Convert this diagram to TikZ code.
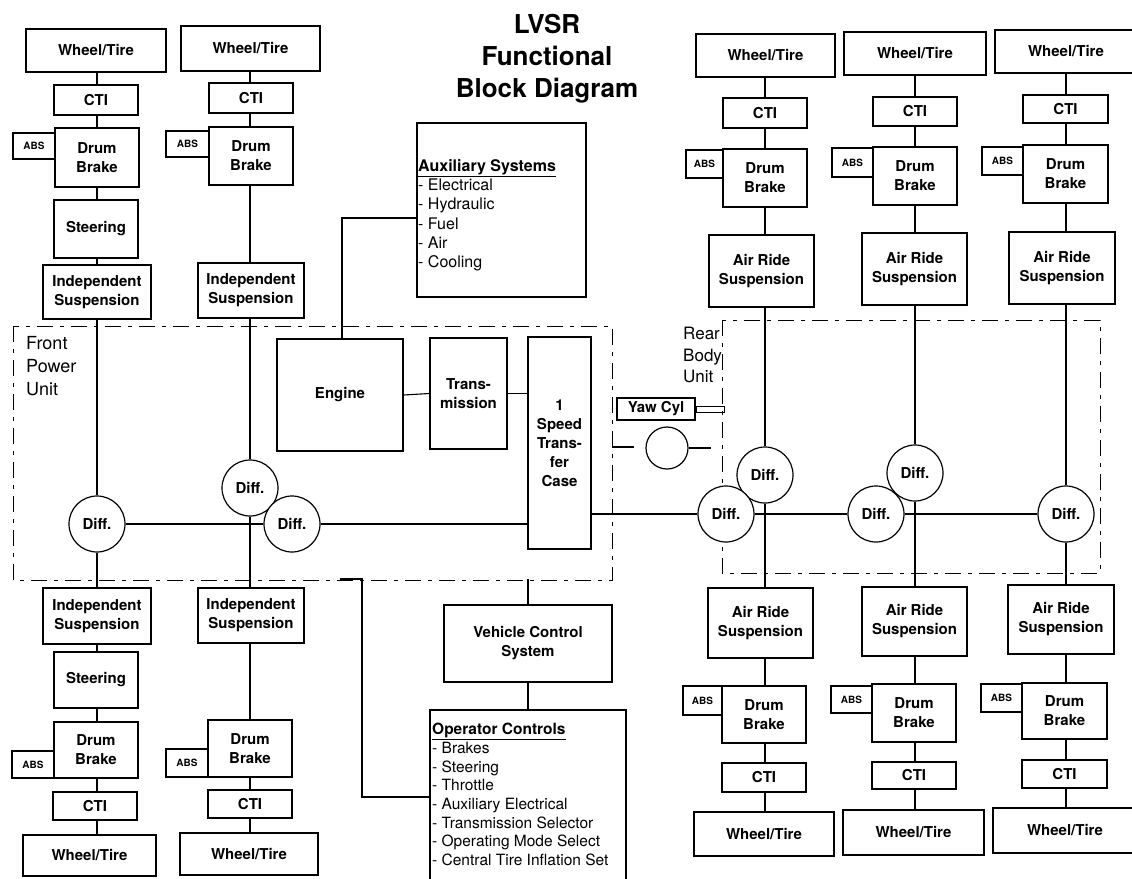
\documentclass[tikz,border=0pt]{standalone}
\usepackage{fontspec}
\setmainfont{TeX Gyre Heros}
\newcommand{\bfont}{\fontsize{15}{19}\selectfont\bfseries}
\newcommand{\absfont}{\fontsize{10}{11}\selectfont\bfseries}
\newcommand{\mybx}[7][box]{%
  \pgfmathsetmacro{\bxw}{#5-#3}%
  \pgfmathsetmacro{\bxh}{#6-#4}%
  \pgfmathsetmacro{\bxcx}{(#3+#5)/2}%
  \pgfmathsetmacro{\bxcy}{(#4+#6)/2}%
  \node[#1, minimum width=\bxw pt, minimum height=\bxh pt] (#2) at (\bxcx,\bxcy) {#7};}
\newcommand{\vlink}[3]{\draw[conn] (#2.south -| #1) -- (#3.north -| #1);}
\begin{document}
\begin{tikzpicture}[x=1pt,y=-1pt,
  box/.style={draw, line width=1.2pt, inner sep=0pt, align=center, font=\bfont},
  absbox/.style={draw, line width=1.2pt, inner sep=0pt, align=center, font=\absfont},
  plainbox/.style={draw, line width=1.2pt, inner sep=0pt},
  diffc/.style={circle, draw, fill=white, line width=1.2pt, inner sep=0pt, minimum size=56pt, font=\bfont},
  conn/.style={line width=1.1pt},
  unitbox/.style={line width=0.9pt, dash pattern=on 16pt off 7pt on 4pt off 7pt},
  lbl/.style={inner sep=0pt, align=left, anchor=north west}]
\path[use as bounding box, fill=white] (0,0) rectangle (1132,878);

% column x positions
\coordinate (c1) at (97,0);
\coordinate (c2) at (250,0);
\coordinate (cA) at (765,0);
\coordinate (cB) at (915,0);
\coordinate (cC) at (1066,0);

% unit boundaries
\draw[unitbox] (13,326) rectangle (612,580);
\draw[unitbox] (722,320) rectangle (1100,573);

% title and labels
\node[inner sep=0pt, align=center, anchor=north, font=\fontsize{26}{32}\selectfont\bfseries] (title) at (547,14) {LVSR\\Functional\\Block Diagram};
\node[lbl, font=\fontsize{18}{23}\selectfont] (fpu) at (26,336) {Front\\Power\\Unit};
\node[lbl, font=\fontsize{17}{21.5}\selectfont] (rbu) at (683,327) {Rear\\Body\\Unit};

% front column 1 (top)
\mybx{wtA1}{26}{29}{166}{72}{Wheel/Tire}
\mybx{ctiA1}{54}{85}{138}{115}{CTI}
\mybx{dbA1}{55}{128}{139}{187}{Drum\\Brake}
\mybx[absbox]{absA1}{13}{133}{55}{159}{ABS}
\mybx{stA1}{54}{200}{138}{258}{Steering}
\mybx{isA1}{43}{265}{151}{319}{Independent\\Suspension}
% front column 2 (top)
\mybx{wtA2}{181}{26}{320}{71}{Wheel/Tire}
\mybx{ctiA2}{209}{83}{293}{113}{CTI}
\mybx{dbA2}{209}{127}{293}{185}{Drum\\Brake}
\mybx[absbox]{absA2}{166}{131}{209}{157}{ABS}
\mybx{isA2}{198}{263}{304}{318}{Independent\\Suspension}
% front column 1 (bottom)
\mybx{isB1}{43}{588}{151}{644}{Independent\\Suspension}
\mybx{stB1}{54}{652}{138}{708}{Steering}
\mybx{dbB1}{54}{722}{138}{778}{Drum\\Brake}
\mybx[absbox]{absB1}{12}{751}{54}{778}{ABS}
\mybx{ctiB1}{53}{792}{137}{820}{CTI}
\mybx{wtB1}{23}{835}{156}{876}{Wheel/Tire}
% front column 2 (bottom)
\mybx{isB2}{198}{588}{304}{643}{Independent\\Suspension}
\mybx{dbB2}{208}{720}{292}{777}{Drum\\Brake}
\mybx[absbox]{absB2}{166}{749}{208}{777}{ABS}
\mybx{ctiB2}{208}{790}{292}{818}{CTI}
\mybx{wtB2}{180}{833}{318}{875}{Wheel/Tire}

% centre
\mybx[plainbox]{aux}{417}{123}{586}{297}{}
\node[lbl, font=\fontsize{16}{19.3}\selectfont] (auxt) at (418,159) {\underline{\textbf{Auxiliary Systems}}\\- Electrical\\- Hydraulic\\- Fuel\\- Air\\- Cooling};
\mybx{eng}{277}{339}{403}{451}{Engine}
\mybx{trn}{430}{338}{507}{449}{Trans-\\mission}
\mybx{tc}{528}{337}{591}{549}{1\\Speed\\Trans-\\fer\\Case}
\mybx{yaw}{617}{398}{695}{420}{Yaw Cyl}
\node[plainbox, line width=1pt, minimum width=28pt, minimum height=6pt, anchor=west] (rod) at (yaw.east) {};
\node[circle, draw, line width=1.2pt, minimum size=42pt, inner sep=0pt] (yc) at (667,448) {};
\mybx{vcs}{444}{605}{612}{682}{Vehicle Control\\System}
\mybx[plainbox]{op}{430}{710}{626}{884}{}
\node[lbl, font=\fontsize{15.5}{18.7}\selectfont] (opt) at (432,723) {\underline{\textbf{Operator Controls}}\\- Brakes\\- Steering\\- Throttle\\- Auxiliary Electrical\\- Transmission Selector\\- Operating Mode Select\\- Central Tire Inflation Set};

% rear column A (top)
\mybx{wtRA1}{696}{34}{835}{77}{Wheel/Tire}
\mybx{ctiRA1}{723}{98}{807}{128}{CTI}
\mybx{dbRA1}{723}{149}{807}{207}{Drum\\Brake}
\mybx[absbox]{absRA1}{686}{150}{723}{178}{ABS}
\mybx{arRA1}{709}{235}{814}{307}{Air Ride\\Suspension}
% rear column B (top)
\mybx{wtRB1}{844}{32}{986}{75}{Wheel/Tire}
\mybx{ctiRB1}{873}{97}{957}{126}{CTI}
\mybx{dbRB1}{873}{147}{957}{205}{Drum\\Brake}
\mybx[absbox]{absRB1}{832}{148}{873}{177}{ABS}
\mybx{arRB1}{862}{233}{967}{305}{Air Ride\\Suspension}
% rear column C (top)
\mybx{wtRC1}{995}{30}{1137}{73}{Wheel/Tire}
\mybx{ctiRC1}{1023}{95}{1108}{123}{CTI}
\mybx{dbRC1}{1023}{145}{1108}{203}{Drum\\Brake}
\mybx[absbox]{absRC1}{982}{147}{1023}{175}{ABS}
\mybx{arRC1}{1009}{232}{1115}{304}{Air Ride\\Suspension}
% rear column A (bottom)
\mybx{arRA2}{708}{588}{813}{658}{Air Ride\\Suspension}
\mybx{dbRA2}{722}{686}{806}{743}{Drum\\Brake}
\mybx[absbox]{absRA2}{683}{686}{722}{715}{ABS}
\mybx{ctiRA2}{722}{763}{806}{792}{CTI}
\mybx{wtRA2}{694}{812}{834}{856}{Wheel/Tire}
% rear column B (bottom)
\mybx{arRB2}{862}{587}{967}{656}{Air Ride\\Suspension}
\mybx{dbRB2}{872}{684}{956}{742}{Drum\\Brake}
\mybx[absbox]{absRB2}{831}{686}{872}{713}{ABS}
\mybx{ctiRB2}{872}{762}{956}{789}{CTI}
\mybx{wtRB2}{843}{810}{984}{855}{Wheel/Tire}
% rear column C (bottom)
\mybx{arRC2}{1008}{585}{1114}{654}{Air Ride\\Suspension}
\mybx{dbRC2}{1022}{683}{1107}{739}{Drum\\Brake}
\mybx[absbox]{absRC2}{981}{684}{1022}{712}{ABS}
\mybx{ctiRC2}{1022}{760}{1107}{788}{CTI}
\mybx{wtRC2}{993}{808}{1137}{853}{Wheel/Tire}

% differentials
\node[diffc] (dF1) at (97,524) {Diff.};
\node[diffc] (dF2) at (250,488) {Diff.};
\node[diffc] (dF3) at (292,524) {Diff.};
\node[diffc] (dRA1) at (765,475) {Diff.};
\node[diffc] (dRA2) at (726,514) {Diff.};
\node[diffc] (dRB1) at (915,473) {Diff.};
\node[diffc] (dRB2) at (876,514) {Diff.};
\node[diffc] (dRC) at (1066,514) {Diff.};

% front vertical links
\vlink{c1}{wtA1}{ctiA1}
\vlink{c1}{ctiA1}{dbA1}
\vlink{c1}{dbA1}{stA1}
\vlink{c1}{stA1}{isA1}
\vlink{c1}{isA1}{dF1}
\vlink{c1}{dF1}{isB1}
\vlink{c1}{isB1}{stB1}
\vlink{c1}{stB1}{dbB1}
\vlink{c1}{dbB1}{ctiB1}
\vlink{c1}{ctiB1}{wtB1}
\vlink{c2}{wtA2}{ctiA2}
\vlink{c2}{ctiA2}{dbA2}
\vlink{c2}{dbA2}{isA2}
\vlink{c2}{isA2}{dF2}
\vlink{c2}{dF2}{isB2}
\vlink{c2}{isB2}{dbB2}
\vlink{c2}{dbB2}{ctiB2}
\vlink{c2}{ctiB2}{wtB2}
% rear vertical links
\vlink{cA}{wtRA1}{ctiRA1}
\vlink{cA}{ctiRA1}{dbRA1}
\vlink{cA}{dbRA1}{arRA1}
\vlink{cA}{arRA1}{dRA1}
\vlink{cA}{dRA1}{arRA2}
\vlink{cA}{arRA2}{dbRA2}
\vlink{cA}{dbRA2}{ctiRA2}
\vlink{cA}{ctiRA2}{wtRA2}
\vlink{cB}{wtRB1}{ctiRB1}
\vlink{cB}{ctiRB1}{dbRB1}
\vlink{cB}{dbRB1}{arRB1}
\vlink{cB}{arRB1}{dRB1}
\vlink{cB}{dRB1}{arRB2}
\vlink{cB}{arRB2}{dbRB2}
\vlink{cB}{dbRB2}{ctiRB2}
\vlink{cB}{ctiRB2}{wtRB2}
\vlink{cC}{wtRC1}{ctiRC1}
\vlink{cC}{ctiRC1}{dbRC1}
\vlink{cC}{dbRC1}{arRC1}
\vlink{cC}{arRC1}{dRC}
\vlink{cC}{dRC}{arRC2}
\vlink{cC}{arRC2}{dbRC2}
\vlink{cC}{dbRC2}{ctiRC2}
\vlink{cC}{ctiRC2}{wtRC2}

% drive line
\draw[conn] (dF1.east) -- (dF3.west);
\draw[conn] (dF3.east) -- (dF3.east -| tc.west);
\draw[conn] (eng.east) -- (trn.west);
\draw[conn] (trn.east) -- (trn.east -| tc.west);
\draw[conn] (dRA2.west -| tc.east) -- (dRA2.west);
\draw[conn] (dRA2.east) -- (dRB2.west);
\draw[conn] (dRB2.east) -- (dRC.west);

% auxiliary link
\coordinate (auxj) at (342,218);
\draw[conn] (auxj -| aux.west) -- (auxj) -- (auxj |- eng.north);

% yaw joint
\coordinate (hA) at (612,447);
\coordinate (hB) at (634,447);
\draw[conn] (hA) -- (hB);
\draw[conn] (yc.east) -- ++(22,0);

% control links
\coordinate (vcsj) at (528,579);
\draw[conn] (vcsj) -- (vcs.north);
\draw[conn] (vcs.south) -- (op.north -| vcs.south);
\coordinate (opj) at (340,579);
\draw[conn] (opj) -- ++(22,0) |- (op.west);
\end{tikzpicture}
\end{document}
